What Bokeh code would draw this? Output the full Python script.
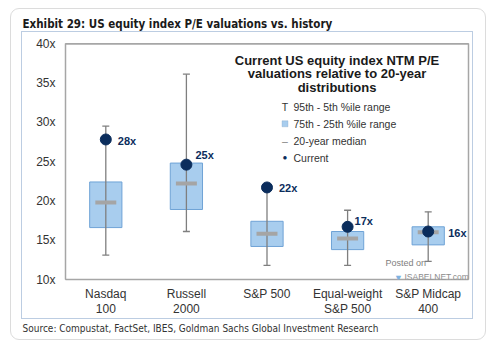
from bokeh.plotting import figure
from bokeh.models import (ColumnDataSource, FactorRange, Label, BoxAnnotation, Title,
                          PrintfTickFormatter, FixedTicker, InlineStyleSheet,
                          LinearAxis, Span)
from bokeh.core.properties import value
from bokeh.embed import file_html
from bokeh.resources import INLINE

# ---------------- data ----------------
categories = ["Nasdaq\n100", "Russell\n2000", "S&P 500", "Equal-weight\nS&P 500", "S&P Midcap\n400"]
p95 = [29.5, 36.1, 21.6, 18.8, 18.6]
p75 = [22.4, 24.8, 17.4, 16.1, 16.7]
median = [19.8, 22.2, 15.8, 15.2, 16.0]
p25 = [16.6, 18.9, 14.2, 13.8, 14.4]
p5 = [13.1, 16.1, 11.8, 11.8, 12.3]
current = [27.8, 24.6, 21.7, 16.7, 16.1]
current_labels = [f"{round(v)}x" for v in current]
y_ticks = [10, 15, 20, 25, 30, 35, 40]

# label offsets (screen px, +y is down) -- styling only
lab_dx = [12, 9, 12, 7, 20]
lab_dy = [2, -10, 1, -6, 1]

src = ColumnDataSource(dict(cat=categories, p95=p95, p75=p75, med=median, p25=p25,
                            p5=p5, cur=current, lab=current_labels,
                            dx=lab_dx, dy=lab_dy))

FONT = "Liberation Sans"
CONDENSED = "'Liberation Sans Narrow', 'DejaVu Sans Condensed', Roboto"
NAVY = "#0b2d5c"
GRAY = "#7f7f7f"
FRAME = "#a6a6a6"

css = """
:host::after {
  content: ''; position: absolute; left: 10px; top: 8px; width: 476px; height: 332px;
  border: 1px solid #dcdcdc; border-radius: 9px; pointer-events: none; box-sizing: border-box;
}
:host::before {
  content: ''; position: absolute; left: 21px; top: 31px; width: 452px; height: 288px;
  border: 1.5px solid #bccde2; pointer-events: none; box-sizing: border-box; z-index: 1;
}
"""

W, H = 500, 353
ML, MR, MT, MB = 65, 32, 43, 74
p = figure(width=W, height=H, x_range=FactorRange(*categories, range_padding=0),
           y_range=(y_ticks[0], y_ticks[-1]), output_backend="svg", toolbar_location=None,
           min_border_left=ML, min_border_right=MR, min_border_top=MT, min_border_bottom=MB)
p.stylesheets = [InlineStyleSheet(css=css)]
p.background_fill_color = "white"
p.border_fill_color = "white"
p.outline_line_color = FRAME
p.xgrid.visible = False
p.ygrid.visible = False

# title / source
p.title.text = "Exhibit 29: US equity index P/E valuations vs. history"
p.title.align = "left"
p.title.offset = -43
p.title.standoff = 25
p.title.text_font = CONDENSED
p.title.text_font_size = "11.5px"
p.title.text_font_style = "bold"
p.title.text_color = "#1a1a1a"
p.add_layout(Title(text="Source: Compustat, FactSet, IBES, Goldman Sachs Global Investment Research",
                   align="left", offset=-43, standoff=4, text_font=CONDENSED,
                   text_font_size="10px", text_font_style="normal", text_color="#333333"), "below")

# right frame edge drawn as a tick-less axis
right_edge = LinearAxis(ticker=FixedTicker(ticks=[]))
p.add_layout(right_edge, "right")

# axes
p.yaxis[0].ticker = FixedTicker(ticks=y_ticks)
p.yaxis[0].formatter = PrintfTickFormatter(format="%dx")
for ax in (p.xaxis[0], p.yaxis[0], right_edge):
    ax.axis_line_color = FRAME
    ax.axis_line_width = 1.5
    ax.major_tick_line_color = None
    ax.minor_tick_line_color = None
    ax.major_tick_in = 0
    ax.major_tick_out = 0
    ax.minor_tick_in = 0
    ax.minor_tick_out = 0
    ax.major_label_text_font = FONT
    ax.major_label_text_font_size = "12px"
    ax.major_label_text_color = "#333333"
    ax.major_label_text_line_height = 1.1
p.yaxis[0].major_label_standoff = 10
p.xaxis[0].major_label_standoff = 7

# top frame edge
p.add_layout(Span(location=y_ticks[-1], dimension="width", line_color=FRAME, line_width=2.5))

# boxes (IQR)
p.vbar(x="cat", width=0.4, bottom="p25", top="p75", source=src,
       fill_color="#a8cdee", line_color="#6fa3d6", line_width=1)
# whiskers
p.segment(x0="cat", x1="cat", y0="p5", y1="p95", source=src, line_color=GRAY, line_width=1.3)
p.scatter(x="cat", y="p95", marker="dash", size=7, source=src, line_color=GRAY, line_width=1.3)
p.scatter(x="cat", y="p5", marker="dash", size=7, source=src, line_color=GRAY, line_width=1.3)
# median
p.rect(x="cat", y="med", width=0.26, height=4, height_units="screen", source=src,
       fill_color="#a5a5a5", line_color=None)
# current
p.scatter(x="cat", y="cur", size=11, source=src, fill_color=NAVY, line_color=NAVY)
p.text(x="cat", y="cur", text="lab", x_offset="dx", y_offset="dy", source=src,
       text_font=value(FONT), text_font_style="bold", text_font_size="11px",
       text_color=NAVY, text_baseline="middle", text_align="left")

# ---------- frame-relative helpers (x from frame left, y up from frame bottom) ----------
FL, FB = ML, H - MB
def fx(cx):
    return cx - FL
def fy(cy):
    return FB - cy

def sbox(**kw):
    return BoxAnnotation(left_units="screen", right_units="screen", top_units="screen",
                         bottom_units="screen", **kw)

def lab(text, cx, cy, size, color="#1a1a1a", bold=False, align="left", font=FONT, **kw):
    p.add_layout(Label(x=fx(cx), y=fy(cy), x_units="screen", y_units="screen", text=text,
                       text_font=font, text_font_size=f"{size}px", text_color=color,
                       text_font_style="bold" if bold else "normal", text_align=align,
                       text_baseline="middle", **kw))

# legend title
for t, cy in zip(["Current US equity index NTM P/E", "valuations relative to 20-year", "distributions"],
                 [60, 73, 86.5]):
    lab(t, 336.5, cy, 13, bold=True, align="center")

# legend items
SX, TX = 284.5, 293
leg_y = [106.5, 123.3, 140, 157.3]
lab("T", SX, leg_y[0], 10.5, color="#333333", align="center")
p.add_layout(sbox(left=fx(SX - 3), right=fx(SX + 3), top=fy(leg_y[1] - 3), bottom=fy(leg_y[1] + 3),
                  fill_color="#a8cdee", fill_alpha=1, line_color="#7f9fbf", line_width=1))
lab("\u2013", SX, leg_y[2], 10.5, color="#7f7f7f", align="center")
lab("\u25CF", SX, leg_y[3], 8, color=NAVY, align="center")
for t, cy in zip(["95th - 5th %ile range", "75th - 25th %ile range", "20-year median", "Current"], leg_y):
    lab(t, TX, cy, 10.5, color="#333333")

# watermark
lab("Posted on", 385, 262, 9, color="#808080")
lab("ISABELNET.com", 404, 276, 8.5, color="#8c8c8c")
lab("\u25BC", 398, 277, 9, color="#7fb2e0", align="center")

open("out.html", "w").write(file_html(p, INLINE))
